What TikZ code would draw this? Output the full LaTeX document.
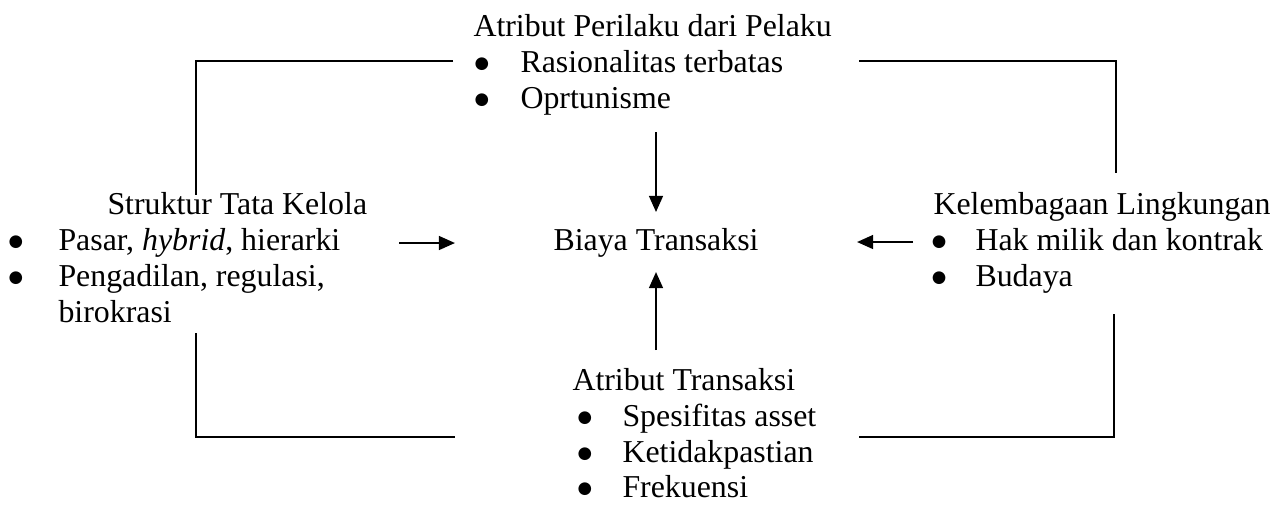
\documentclass[tikz,border=0pt]{standalone}
\usepackage{fontspec}
\setmainfont{Liberation Serif}
\newfontfamily\dotfont{DejaVu Sans}
\usetikzlibrary{arrows.meta}
\begin{document}
\begin{tikzpicture}[x=0.3846pt,y=-0.3846pt,
  txt/.style={anchor=base west,inner sep=0pt,font=\fontsize{12.25}{14}\selectfont},
  dot/.style={anchor=base,inner sep=0pt,yshift=1.2pt,font=\dotfont\fontsize{6.4}{7}\selectfont},
  frame/.style={line width=0.8pt},
  flow/.style={line width=0.85pt,-{Triangle[length=6.2pt,width=5.3pt]}}]
\useasboundingbox (0,0) rectangle (1285,511);

% centre
\node[txt] (biaya) at (553,250) {Biaya Transaksi};

% behavioural attributes (top)
\node[txt] (perilaku) at (473,36) {Atribut Perilaku dari Pelaku};
\node[dot] (pb1) at (482,72) {●};
\node[txt] (rasional) at (520,72) {Rasionalitas terbatas};
\node[dot] (pb2) at (482,108) {●};
\node[txt] (oprt) at (520,108) {Oprtunisme};

% governance structure (left)
\node[txt] (struktur) at (107,214) {Struktur Tata Kelola};
\node[dot] (lb1) at (16,250) {●};
\node[txt] (pasar) at (58,250) {Pasar, \textit{hybrid}, hierarki};
\node[dot] (lb2) at (16,286) {●};
\node[txt] (pengadilan) at (58,286) {Pengadilan, regulasi,};
\node[txt] (birokrasi) at (58,322) {birokrasi};

% institutional environment (right)
\node[txt] (kelembagaan) at (933,214) {Kelembagaan Lingkungan};
\node[dot] (rb1) at (939,250) {●};
\node[txt] (hak) at (975,250) {Hak milik dan kontrak};
\node[dot] (rb2) at (939,286) {●};
\node[txt] (budaya) at (975,286) {Budaya};

% transaction attributes (bottom)
\node[txt] (transaksi) at (572,390) {Atribut Transaksi};
\node[dot] (bb1) at (585,426) {●};
\node[txt] (spesifitas) at (622,426) {Spesifitas asset};
\node[dot] (bb2) at (585,462) {●};
\node[txt] (ketidak) at (622,462) {Ketidakpastian};
\node[dot] (bb3) at (585,497) {●};
\node[txt] (frek) at (622,497) {Frekuensi};

% frame corner ends
\coordinate (tl-a) at (453,61);  \coordinate (tl-b) at (196,195);
\coordinate (tr-a) at (859,61);  \coordinate (tr-b) at (1116,173);
\coordinate (bl-a) at (196,333); \coordinate (bl-b) at (455,437);
\coordinate (br-a) at (859,437); \coordinate (br-b) at (1114,314);

\draw[frame] (tl-a) -| (tl-b);
\draw[frame] (tr-a) -| (tr-b);
\draw[frame] (bl-a) |- (bl-b);
\draw[frame] (br-a) -| (br-b);

% arrows into the centre
\coordinate (top-s) at (656,132); \coordinate (top-e) at (656,212);
\coordinate (bot-s) at (656,350); \coordinate (bot-e) at (656,272);
\coordinate (lft-s) at (399,243); \coordinate (lft-e) at (455,243);
\coordinate (rgt-s) at (913,242); \coordinate (rgt-e) at (857,242);

\draw[flow] (top-s) -- (top-e);
\draw[flow] (bot-s) -- (bot-e);
\draw[flow] (lft-s) -- (lft-e);
\draw[flow] (rgt-s) -- (rgt-e);
\end{tikzpicture}
\end{document}
